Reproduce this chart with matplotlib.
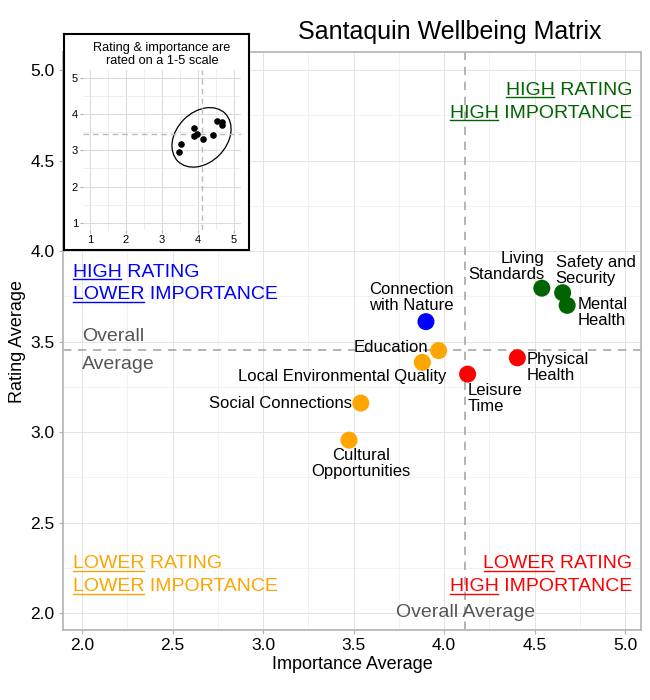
import numpy as np
import matplotlib
matplotlib.use("Agg")
import matplotlib.pyplot as plt
from matplotlib.patches import Ellipse
from matplotlib.lines import Line2D

plt.rcParams['font.family'] = ['Liberation Sans', 'DejaVu Sans']

# data
labels = ["Connection\nwith Nature", "Education", "Local Environmental Quality",
          "Social Connections", "Cultural\nOpportunities", "Leisure\nTime",
          "Physical\nHealth", "Living\nStandards", "Safety and\nSecurity",
          "Mental\nHealth"]
importance = [3.90, 3.97, 3.88, 3.54, 3.475, 4.13, 4.405, 4.54, 4.655, 4.68]
rating = [3.61, 3.45, 3.385, 3.16, 2.955, 3.32, 3.41, 3.795, 3.77, 3.70]
quadrant = ["hl", "ll", "ll", "ll", "ll", "lh", "lh", "hh", "hh", "hh"]

quad_colors = {"hh": "#006400", "hl": "#0000FF", "ll": "#FFA500", "lh": "#FF0000"}

# label placement (pixel offsets from the point, alignment)
label_pos = [(-15, 24, "center"), (-10, 3, "right"), (24, -14, "right"),
             (-9, 0, "right"), (12, -23, "center"), (0, -24, "left"),
             (9, -10, "left"), (3, 22, "right"), (-7, 22, "left"),
             (10, -7, "left")]

mean_imp = np.mean(importance)
mean_rat = np.mean(rating)

fig = plt.figure(figsize=(6.5, 7), dpi=100)
ax = fig.add_axes([0.0969, 0.1, 0.8893, 0.8257])

ax.set_xlim(1.895, 5.088)
ax.set_ylim(1.906, 5.10)
ax.set_xticks([2.0, 2.5, 3.0, 3.5, 4.0, 4.5, 5.0])
ax.set_yticks([2.0, 2.5, 3.0, 3.5, 4.0, 4.5, 5.0])
ax.set_xticks(np.arange(2.25, 5.0, 0.5), minor=True)
ax.set_yticks(np.arange(2.25, 5.0, 0.5), minor=True)
ax.grid(True, which="major", color="#E3E3E3", lw=0.7)
ax.grid(True, which="minor", color="#EDEDED", lw=0.5)
ax.set_axisbelow(True)
for s in ax.spines.values():
    s.set_color("#B3B3B3")
    s.set_linewidth(1.2)
ax.tick_params(which="major", length=3, color="#B3B3B3", labelsize=12.5, pad=3)
ax.tick_params(which="minor", length=0)
ax.set_xlabel("Importance Average", fontsize=13, labelpad=2)
ax.set_ylabel("Rating Average", fontsize=13, labelpad=3)

ax.axvline(mean_imp, color="#A8A8A8", lw=1.2, ls=(0, (5, 4)), zorder=1)
ax.axhline(mean_rat, color="#A8A8A8", lw=1.2, ls=(0, (5, 4)), zorder=1)

cols = [quad_colors[q] for q in quadrant]
ax.scatter(importance, rating, s=150, c=cols, edgecolors="none", zorder=3)

for lab, x, y, (dx, dy, ha) in zip(labels, importance, rating, label_pos):
    ax.annotate(lab, (x, y), xytext=(dx, dy), textcoords="offset pixels",
                ha=ha, va="center", multialignment=ha, fontsize=12,
                linespacing=1.1, zorder=4)

# overall average notes
ax.annotate("Overall", (2.0, mean_rat), xytext=(0, 13), textcoords="offset pixels",
            ha="left", va="center", fontsize=14, color="#555555")
ax.annotate("Average", (2.0, mean_rat), xytext=(0, -15), textcoords="offset pixels",
            ha="left", va="center", fontsize=14, color="#555555")
ax.text(mean_imp, 2.0, "Overall Average", ha="center", va="center",
        fontsize=14, color="#555555")

# quadrant notes: (x, baseline y1, baseline y2, ha, colour, lines)
quad_notes = [
    (5.039, 4.865, 4.738, "right", quad_colors["hh"], [("HIGH", "RATING"), ("HIGH", "IMPORTANCE")]),
    (1.949, 3.859, 3.734, "left", quad_colors["hl"], [("HIGH", "RATING"), ("LOWER", "IMPORTANCE")]),
    (1.949, 2.248, 2.119, "left", quad_colors["ll"], [("LOWER", "RATING"), ("LOWER", "IMPORTANCE")]),
    (5.039, 2.248, 2.119, "right", quad_colors["lh"], [("LOWER", "RATING"), ("HIGH", "IMPORTANCE")]),
]
quad_texts = []
for qx, y1, y2, ha, col, lines in quad_notes:
    for yy, (u, rest) in zip([y1, y2], lines):
        t = ax.text(qx, yy, u + " " + rest, ha=ha, va="baseline", fontsize=14, color=col)
        quad_texts.append((t, u, col, qx, yy))

# inset
box = fig.add_axes([0.0985, 0.6429, 0.2845, 0.3086])
box.set_xticks([])
box.set_yticks([])
box.set_facecolor("white")
for s in box.spines.values():
    s.set_color("black")
    s.set_linewidth(1.5)

ins = fig.add_axes([0.1274, 0.6714, 0.2437, 0.2279])
ins.set_xlim(0.8, 5.2)
ins.set_ylim(0.8, 5.2)
ins.set_xticks([1, 2, 3, 4, 5])
ins.set_yticks([1, 2, 3, 4, 5])
ins.set_xticks(np.arange(1.5, 5, 1), minor=True)
ins.set_yticks(np.arange(1.5, 5, 1), minor=True)
ins.grid(True, which="major", color="#DCDCDC", lw=0.8)
ins.grid(True, which="minor", color="#E8E8E8", lw=0.5)
ins.set_axisbelow(True)
for s in ins.spines.values():
    s.set_visible(False)
ins.tick_params(which="major", length=2, color="#B3B3B3", labelsize=8, pad=1.5)
ins.tick_params(which="minor", length=0)
ins.axvline(mean_imp, color="#BBBBBB", lw=1, ls=(0, (4, 3)))
ins.axhline(mean_rat, color="#BBBBBB", lw=1, ls=(0, (4, 3)))
ins.scatter(importance, rating, s=14, c="black", zorder=3)
ins.add_patch(Ellipse((mean_imp - 0.02, mean_rat - 0.1), 1.86, 1.39, angle=45,
                      fill=False, ec="black", lw=0.9))
ins.set_title("Rating & importance are\nrated on a 1-5 scale", fontsize=9.2,
              linespacing=1.05, pad=5)

fig.text(450 / 650, 1 - 32 / 700, "Santaquin Wellbeing Matrix", fontsize=18,
         ha="center", va="center")

# underline the first word of each quadrant note
fig.canvas.draw()
renderer = fig.canvas.get_renderer()
inv = fig.transFigure.inverted()
for t, u, col, qx, yy in quad_texts:
    bb = t.get_window_extent(renderer)
    tmp = ax.text(qx, yy, u, fontsize=14)
    w = tmp.get_window_extent(renderer).width
    tmp.remove()
    base = ax.transData.transform((qx, yy))[1] - 2.5
    p0 = inv.transform((bb.x0 + 0.5, base))
    p1 = inv.transform((bb.x0 + w - 0.5, base))
    fig.add_artist(Line2D([p0[0], p1[0]], [p0[1], p1[1]], color=col, lw=1.0))

fig.savefig("out.png", dpi=100)
